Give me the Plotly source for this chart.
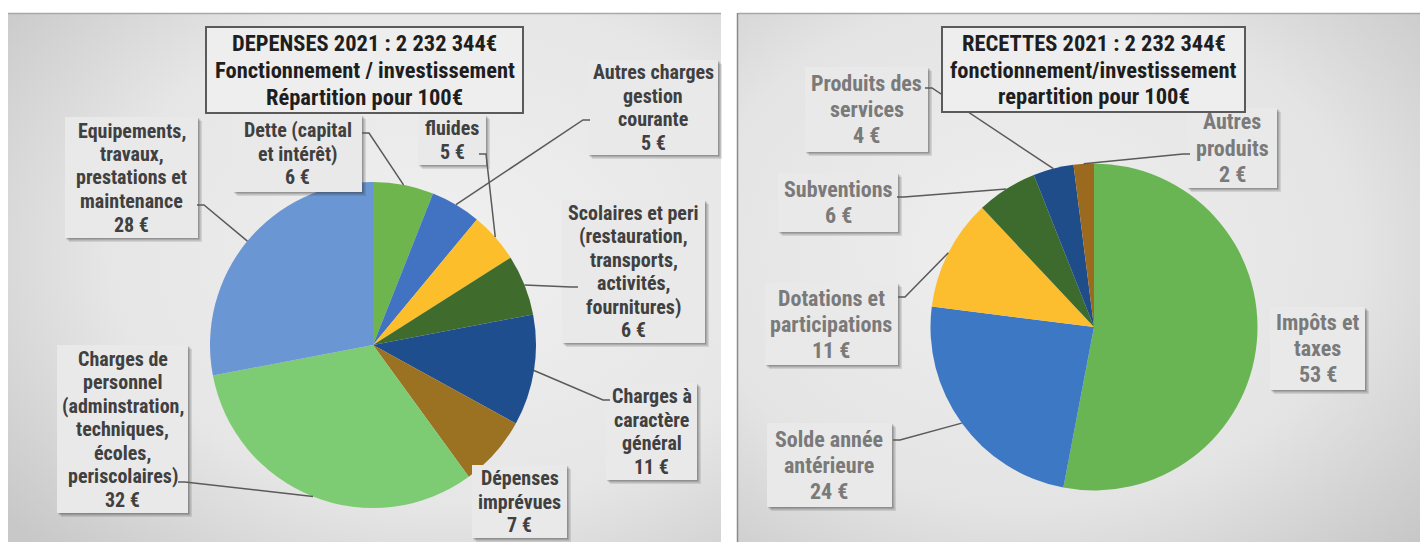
import base64
import math
import plotly.graph_objects as go

# page is rendered with the default 8px body margin, so the figure origin sits at (8, 8)
PAGE_W, PAGE_H = 1428, 542
OFF = 8
W, H = PAGE_W - OFF, PAGE_H - OFF

# ---------------- data ----------------
dep_categories = [
    "Dette (capital<br>et intérêt)",
    "Autres charges<br>gestion<br>courante",
    "fluides",
    "Scolaires et peri<br>(restauration,<br>transports,<br>activités,<br>fournitures)",
    "Charges à<br>caractère<br>général",
    "Dépenses<br>imprévues",
    "Charges de<br>personnel<br>(adminstration,<br>techniques,<br>écoles,<br>periscolaires)",
    "Equipements,<br>travaux,<br>prestations et<br>maintenance",
]
dep_values = [6, 5, 5, 6, 11, 7, 32, 28]
dep_colors = ["#6DB54C", "#4273C3", "#FDBE2C", "#3F6C2C", "#1F4E8E", "#9B7222", "#7DCB72", "#6A96D3"]

rec_categories = [
    "Impôts et<br>taxes",
    "Solde année<br>antérieure",
    "Dotations et<br>participations",
    "Subventions",
    "Produits des<br>services",
    "Autres<br>produits",
]
rec_values = [53, 24, 11, 6, 4, 2]
rec_colors = ["#69B554", "#3C78C4", "#FCBD2E", "#3D6B2D", "#1F4D8A", "#9C6A1F"]

dep_title = "DEPENSES 2021 : 2 232 344€<br>Fonctionnement / investissement<br>Répartition pour 100€"
rec_title = "RECETTES 2021 : 2 232 344€<br>fonctionnement/investissement<br>repartition pour 100€"

# ---------------- layout constants (page pixels) ----------------
dep_center, dep_r = (373, 345), 163
rec_center, rec_r = (1094, 327), 163.5

dep_boxes = [
    ((233, 115, 362, 192), (362, 133)),
    ((588, 60, 718, 155), (590, 120)),
    ((418, 115, 486, 165), (479, 154)),
    ((562, 200, 705, 343), (578, 287)),
    ((606, 383, 697, 480), (610, 400)),
    ((472, 465, 567, 538), None),
    ((57, 345, 188, 513), (178, 482)),
    ((65, 117, 198, 238), (197, 205)),
]
rec_boxes = [
    ((1270, 307, 1365, 390), None),
    ((767, 423, 892, 507), (893, 440)),
    ((765, 283, 898, 365), (898, 297)),
    ((778, 173, 898, 232), (897, 197)),
    ((805, 67, 928, 152), (925, 88)),
    ((1187, 108, 1277, 188), (1190, 154)),
]
dep_title_box = (206, 27, 523, 113)
rec_title_box = (942, 27, 1245, 112)

FONT = "Liberation Sans Narrow, Arial Narrow, Roboto Condensed, Roboto, sans-serif"


def X(px):
    return (px - OFF) / W


def Y(py):
    return 1 - (py - OFF) / H


fig = go.Figure()


def add_pie(values, colors, center, r):
    cx, cy = center
    fig.add_trace(go.Pie(
        values=values,
        marker=dict(colors=colors, line=dict(width=0)),
        sort=False,
        direction="clockwise",
        rotation=0,
        textinfo="none",
        hoverinfo="value+percent",
        showlegend=False,
        domain=dict(x=[X(cx - r), X(cx + r)], y=[Y(cy + r), Y(cy - r)]),
    ))


add_pie(dep_values, dep_colors, dep_center, dep_r)
add_pie(rec_values, rec_colors, rec_center, rec_r)

# background gradient panels (svg image, page pixel coords via viewBox)
svg = f'''<svg xmlns="http://www.w3.org/2000/svg" width="{W}" height="{H}" viewBox="{OFF} {OFF} {W} {H}">
<defs>
<radialGradient id="g1" cx="0.62" cy="0.45" r="0.8">
<stop offset="0" stop-color="#F0F0F0"/><stop offset="0.6" stop-color="#E6E6E6"/><stop offset="1" stop-color="#C8C8C8"/>
</radialGradient>
<radialGradient id="g2" cx="0.42" cy="0.45" r="0.8">
<stop offset="0" stop-color="#EFEFEF"/><stop offset="0.6" stop-color="#E4E4E4"/><stop offset="1" stop-color="#C6C6C6"/>
</radialGradient>
</defs>
<rect x="0" y="0" width="{PAGE_W}" height="{PAGE_H}" fill="#FFFFFF"/>
<rect x="8" y="13" width="713" height="{PAGE_H-13}" fill="url(#g1)"/>
<rect x="738" y="13" width="{PAGE_W-738}" height="{PAGE_H-13}" fill="url(#g2)"/>
<line x1="8" y1="13.5" x2="721" y2="13.5" stroke="#A8A8A8" stroke-width="1.5"/>
<line x1="738" y1="13.5" x2="{PAGE_W}" y2="13.5" stroke="#A8A8A8" stroke-width="1.5"/>
<line x1="737.5" y1="13" x2="737.5" y2="{PAGE_H}" stroke="#8A8A8A" stroke-width="1.5"/>
</svg>'''
src = "data:image/svg+xml;base64," + base64.b64encode(svg.encode()).decode()

shapes = []
annotations = []


def add_box(box, text, color, size, spacing, shadow=True, border=None, fill="#E9E9E9"):
    x0, y0, x1, y1 = box
    if shadow:
        for off, op in ((4, 0.12), (2.5, 0.18), (1.2, 0.22)):
            shapes.append(dict(type="rect", xref="paper", yref="paper",
                               x0=X(x0 + off), x1=X(x1 + off), y0=Y(y1 + off), y1=Y(y0 + off),
                               fillcolor=f"rgba(40,40,40,{op})", line=dict(width=0)))
    shapes.append(dict(type="rect", xref="paper", yref="paper",
                       x0=X(x0), x1=X(x1), y0=Y(y1), y1=Y(y0),
                       fillcolor=fill,
                       line=dict(width=2 if border else 0, color=border or fill)))
    lines = text.split("<br>")
    n = len(lines)
    cy = (y0 + y1) / 2
    for k, ln in enumerate(lines):
        ly = cy + (k - (n - 1) / 2) * spacing
        annotations.append(dict(
            xref="paper", yref="paper", x=X((x0 + x1) / 2), y=Y(ly),
            xanchor="center", yanchor="middle", showarrow=False, align="center",
            text=f"<b>{ln}</b>",
            font=dict(family=FONT, size=size, color=color)))


def edge_point(values, i, center, r):
    total = sum(values)
    cum = sum(values[:i]) + values[i] / 2
    th = math.radians(360 * cum / total)
    return center[0] + r * math.sin(th), center[1] - r * math.cos(th)


def add_leader(start, end):
    sx, sy = start
    ex, ey = end
    dx = 7 if ex > sx else -7
    path = f"M {X(sx)},{Y(sy)} L {X(sx+dx)},{Y(sy)} L {X(ex)},{Y(ey)}"
    shapes.append(dict(type="path", xref="paper", yref="paper", path=path,
                       line=dict(color="#5A5A5A", width=1.5)))


for i, (cat, val) in enumerate(zip(dep_categories, dep_values)):
    box, start = dep_boxes[i]
    add_box(box, f"{cat}<br>{val} €", "#404040", 20, 23.5)
    if start:
        add_leader(start, edge_point(dep_values, i, dep_center, dep_r))

for i, (cat, val) in enumerate(zip(rec_categories, rec_values)):
    box, start = rec_boxes[i]
    add_box(box, f"{cat}<br>{val} €", "#7A7A7A", 22, 26)
    if start:
        add_leader(start, edge_point(rec_values, i, rec_center, rec_r))

add_box(dep_title_box, dep_title, "#1E1E1E", 22.5, 26.7, shadow=False, border="#5A5A5A", fill="#EEEEEE")
add_box(rec_title_box, rec_title, "#1E1E1E", 22.5, 26.7, shadow=False, border="#5A5A5A", fill="#EEEEEE")

fig.update_layout(
    width=W, height=H,
    margin=dict(l=0, r=0, t=0, b=0),
    paper_bgcolor="#FFFFFF",
    plot_bgcolor="rgba(0,0,0,0)",
    images=[dict(source=src, xref="paper", yref="paper", x=0, y=1, sizex=1, sizey=1,
                 xanchor="left", yanchor="top", sizing="stretch", layer="below")],
    shapes=shapes,
    annotations=annotations,
)

fig.write_html("out.html")
